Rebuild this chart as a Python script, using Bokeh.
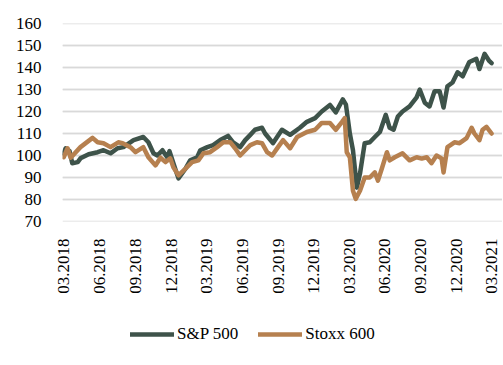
import math
import pandas as pd
from bokeh.plotting import figure
from bokeh.layouts import column
from bokeh.models import FixedTicker, DatetimeTickFormatter, Legend, LegendItem, Range1d
from bokeh.embed import file_html
from bokeh.resources import INLINE

sp_dates = ["2018-03-01", "2018-03-06", "2018-03-16", "2018-03-23", "2018-04-06", "2018-04-13",
            "2018-05-04", "2018-05-27", "2018-06-11", "2018-06-29", "2018-07-17", "2018-08-01",
            "2018-08-27", "2018-09-21", "2018-10-04", "2018-10-17", "2018-10-27", "2018-11-09",
            "2018-11-22", "2018-11-27", "2018-12-07", "2018-12-20", "2019-01-07", "2019-01-19",
            "2019-02-06", "2019-02-14", "2019-03-04", "2019-03-19", "2019-04-06", "2019-04-26",
            "2019-05-09", "2019-05-27", "2019-06-09", "2019-06-22", "2019-07-04", "2019-07-22",
            "2019-07-30", "2019-08-19", "2019-09-11", "2019-10-02", "2019-10-27", "2019-11-14",
            "2019-12-05", "2019-12-22", "2020-01-12", "2020-01-27", "2020-02-14", "2020-02-22",
            "2020-03-03", "2020-03-11", "2020-03-21", "2020-03-29", "2020-04-10", "2020-04-23",
            "2020-05-06", "2020-05-19", "2020-06-03", "2020-06-13", "2020-06-23", "2020-07-04",
            "2020-07-16", "2020-08-03", "2020-08-21", "2020-08-29", "2020-09-11", "2020-09-23",
            "2020-10-06", "2020-10-19", "2020-10-29", "2020-11-08", "2020-11-21", "2020-12-04",
            "2020-12-17", "2021-01-03", "2021-01-21", "2021-01-29", "2021-02-11", "2021-02-23",
            "2021-03-01"]
sp_values = [101.0, 103.3, 102.0, 96.5, 97.0, 98.7,
             100.6, 101.5, 102.4, 101.0, 103.3, 103.8,
             107.0, 108.4, 106.0, 101.0, 100.0, 102.4,
             99.0, 102.0, 96.5, 89.6, 94.0, 97.8,
             99.2, 102.4, 103.8, 104.7, 107.0, 108.9,
             106.0, 103.8, 107.0, 109.4, 111.7, 112.6,
             110.0, 105.6, 111.7, 109.4, 112.6, 115.3,
             117.0, 120.0, 123.0, 119.6, 125.5, 123.1,
             110.0, 102.4, 85.4, 91.8, 105.6, 106.0,
             108.4, 110.7, 118.5, 112.6, 111.7, 117.7,
             120.0, 122.3, 126.4, 130.0, 124.0, 122.3,
             129.2, 129.2, 121.8, 131.5, 133.2, 137.8,
             136.0, 142.5, 143.9, 139.3, 146.2, 143.0,
             142.0]

stoxx_dates = ["2018-03-01", "2018-03-11", "2018-03-19", "2018-04-13", "2018-05-14", "2018-05-27",
               "2018-06-11", "2018-06-29", "2018-07-19", "2018-07-30", "2018-08-19", "2018-09-01",
               "2018-09-21", "2018-10-04", "2018-10-22", "2018-11-04", "2018-11-17", "2018-11-29",
               "2018-12-07", "2018-12-20", "2019-01-07", "2019-01-24", "2019-02-09", "2019-02-22",
               "2019-03-11", "2019-03-29", "2019-04-14", "2019-05-02", "2019-05-14", "2019-05-27",
               "2019-06-14", "2019-06-22", "2019-07-09", "2019-07-22", "2019-08-04", "2019-08-17",
               "2019-09-01", "2019-09-14", "2019-10-02", "2019-10-20", "2019-11-14", "2019-12-05",
               "2019-12-22", "2020-01-12", "2020-01-27", "2020-02-12", "2020-02-19", "2020-02-24",
               "2020-03-03", "2020-03-11", "2020-03-18", "2020-03-29", "2020-04-10", "2020-04-23",
               "2020-05-06", "2020-05-14", "2020-05-24", "2020-06-06", "2020-06-13", "2020-06-26",
               "2020-07-16", "2020-08-03", "2020-08-21", "2020-09-03", "2020-09-16", "2020-09-28",
               "2020-10-11", "2020-10-24", "2020-10-29", "2020-11-08", "2020-11-26", "2020-12-09",
               "2020-12-27", "2021-01-09", "2021-01-16", "2021-01-29", "2021-02-06", "2021-02-16",
               "2021-03-01"]
stoxx_values = [99.2, 103.3, 99.0, 103.8, 108.0, 106.0,
                105.6, 103.8, 106.0, 105.6, 103.8, 101.5,
                103.8, 99.2, 95.5, 99.0, 97.0, 98.7,
                94.6, 91.0, 94.0, 97.0, 97.8, 101.0,
                101.5, 103.8, 106.0, 106.0, 103.3, 100.0,
                103.3, 104.7, 106.0, 105.6, 101.5, 100.0,
                103.8, 107.0, 103.3, 108.4, 110.7, 111.7,
                114.8, 114.8, 111.7, 115.3, 117.0, 101.5,
                99.2, 84.0, 80.3, 84.0, 90.0, 90.0,
                92.3, 88.6, 94.1, 101.5, 97.8, 99.2,
                101.0, 97.8, 99.2, 98.6, 99.2, 96.5,
                100.0, 98.7, 92.3, 103.8, 106.0, 105.6,
                107.9, 112.6, 110.0, 107.0, 111.7, 113.0,
                110.0]

tick_dates = ["2018-03-01", "2018-06-01", "2018-09-01", "2018-12-01", "2019-03-01", "2019-06-01",
              "2019-09-01", "2019-12-01", "2020-03-01", "2020-06-01", "2020-09-01", "2020-12-01",
              "2021-03-01"]
y_ticks = [70, 80, 90, 100, 110, 120, 130, 140, 150, 160]
series_names = ["S&P 500", "Stoxx 600"]

GREEN = "#3E534A"
BROWN = "#B6804F"
GRID = "#D9D9D9"
FONT = "Liberation Serif"
FS = "17px"

sp_x = pd.to_datetime(sp_dates)
st_x = pd.to_datetime(stoxx_dates)
ticks_ms = [pd.Timestamp(d).value / 1e6 for d in tick_dates]

x_start = pd.Timestamp("2018-02-26").value / 1e6
x_end = pd.Timestamp("2021-03-29").value / 1e6

p = figure(width=502, height=310, x_axis_type="datetime",
           x_range=Range1d(x_start, x_end), y_range=Range1d(70, 160),
           output_backend="svg", toolbar_location=None,
           min_border_left=0, min_border_top=23, min_border_right=0,
           min_border_bottom=89)
p.outline_line_color = None
p.background_fill_color = "white"
p.border_fill_color = "white"

# horizontal gridlines as thin filled bars spanning the x range
y_tick_ticker = FixedTicker(ticks=y_ticks)
p.xgrid.visible = False
p.ygrid.ticker = y_tick_ticker
p.ygrid.grid_line_color = GRID
p.ygrid.grid_line_width = 1.5
p.rect(x=(x_start + x_end) / 2, y=y_ticks, width=(x_end - x_start), height=1.6,
       height_units="screen", fill_color=GRID, line_color=None)

p.line(sp_x, sp_values, line_color=GREEN, line_width=4.5, line_join="round", line_cap="round")
p.line(st_x, stoxx_values, line_color=BROWN, line_width=4.5, line_join="round", line_cap="round")

# axes
p.yaxis.ticker = y_tick_ticker
p.xaxis.ticker = FixedTicker(ticks=ticks_ms)
fmt = "%m.%Y"
p.xaxis.formatter = DatetimeTickFormatter(milliseconds=fmt, seconds=fmt, minsec=fmt, minutes=fmt,
                                          hourmin=fmt, hours=fmt, days=fmt, months=fmt, years=fmt)
for ax in (p.xaxis[0], p.yaxis[0]):
    ax.axis_line_color = None
    ax.major_tick_line_color = None
    ax.minor_tick_line_color = None
    ax.major_label_text_font = FONT
    ax.major_label_text_font_size = FS
    ax.major_label_text_color = "#000000"
p.xaxis.major_label_orientation = math.pi / 2
p.xaxis.major_label_standoff = 11
p.yaxis.major_label_standoff = 15
# pad y labels on the left so their right edge sits closer to the plot
p.yaxis.major_label_overrides = {v: "\u00a0\u00a0\u00a0" + str(v) for v in y_ticks}

# legend in its own strip below the chart
lg = figure(width=502, height=50, output_backend="svg", toolbar_location=None,
            x_range=Range1d(0, 1), y_range=Range1d(0, 1), min_border=0)
lg.axis.visible = False
lg.grid.visible = False
lg.outline_line_color = None
g1 = lg.line([-2, -1], [-2, -1], line_color=GREEN, line_width=4.5, line_cap="round")
g2 = lg.line([-2, -1], [-2, -1], line_color=BROWN, line_width=4.5, line_cap="round")
legend = Legend(items=[LegendItem(label=series_names[0], renderers=[g1]),
                       LegendItem(label=series_names[1], renderers=[g2])],
                orientation="horizontal", location=(68, 16),
                glyph_width=44, glyph_height=20, label_standoff=3, spacing=20,
                label_text_font=FONT, label_text_font_size=FS, label_text_color="#000000",
                border_line_color=None, background_fill_alpha=0, padding=0, margin=0)
lg.add_layout(legend, "center")

layout = column(p, lg, spacing=0)
open("out.html", "w").write(file_html(layout, INLINE))
